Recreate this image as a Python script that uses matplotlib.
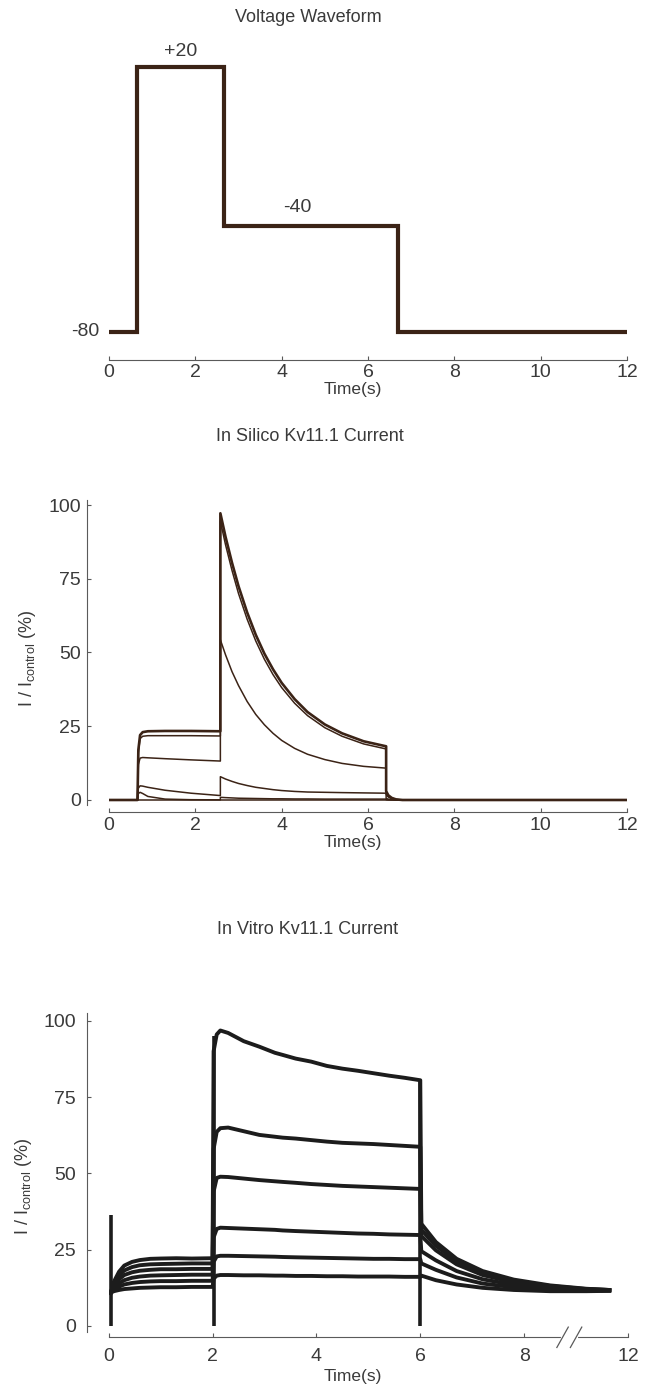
import matplotlib
matplotlib.use('Agg')
import matplotlib.pyplot as plt
import matplotlib.transforms as mtransforms

plt.rcParams['font.family'] = ['Liberation Sans', 'DejaVu Sans']
plt.rcParams['mathtext.default'] = 'regular'

W, H = 646, 1390

# ---- voltage protocol ----
step_times = [0, 0.65, 2.66, 6.69, 12]
step_levels = [-80, 20, -40, -80]
step_labels = ['-80', '+20', '-40']

# ---- in silico current (% of control) ----
si_t = [0, 0.66,
        0.66, 0.68, 0.72, 0.78, 0.9, 1.3, 1.9, 2.58,
        2.58, 2.7, 2.85, 3.0, 3.2, 3.4, 3.6, 3.8, 4.0, 4.3, 4.6, 5.0, 5.4, 5.9, 6.42,
        6.42, 6.47, 6.55, 6.65, 6.8, 12]
si_a = [0, 0, 0, 17, 22, 23, 23.3, 23.4, 23.4, 23.3,
        97.2, 89.2, 80.4, 72.5, 63.6, 56.0, 49.6, 44.3, 39.7, 34.2, 29.8, 25.6, 22.6, 19.9, 18.2,
        3.0, 1.6, 0.7, 0.2, 0, 0]
si_b = [0, 0, 0, 16, 20.8, 21.6, 21.8, 21.8, 21.8, 21.7,
        94.5, 86.5, 77.8, 70.0, 61.3, 53.9, 47.7, 42.5, 38.1, 32.8, 28.6, 24.5, 21.6, 19.0, 17.3,
        2.9, 1.5, 0.6, 0.2, 0, 0]
si_c = [0, 0, 0, 12, 14.2, 14.4, 14.3, 14.0, 13.6, 13.2,
        54.3, 49.2, 43.5, 38.8, 33.4, 29.0, 25.5, 22.6, 20.2, 17.5, 15.5, 13.7, 12.4, 11.4, 10.8,
        1.8, 1.0, 0.4, 0.1, 0, 0]
si_d = [0, 0, 0, 4.0, 4.8, 4.7, 4.3, 3.3, 2.3, 1.5,
        7.9, 7.1, 6.3, 5.6, 4.9, 4.3, 3.9, 3.5, 3.2, 2.9, 2.7, 2.6, 2.5, 2.4, 2.3,
        0.5, 0.3, 0.1, 0, 0, 0]
si_e = [0, 0, 0, 2.2, 2.6, 2.2, 1.2, 0.3, 0.1, 0.05,
        0.9, 0.8, 0.7, 0.6, 0.55, 0.5, 0.45, 0.4, 0.4, 0.35, 0.35, 0.3, 0.3, 0.3, 0.3,
        0.1, 0, 0, 0, 0, 0]
si_f = [0] * 31

# ---- in vitro current (% of control), x in axis units (break after 8) ----
vi_t = [0.04, 0.1, 0.2, 0.3, 0.45, 0.6, 0.8, 1.0, 1.3, 1.6, 2.0,
        2.02, 2.08, 2.15, 2.3, 2.6, 2.9, 3.2, 3.35, 3.6, 3.9, 4.2, 4.5, 4.8, 5.1, 5.4, 5.7, 6.0,
        6.02, 6.3, 6.7, 7.2, 7.8, 8.5, 9.2, 9.64]
vi_1 = [10.9, 14.5, 17.8, 19.8, 21.0, 21.6, 22.0, 22.1, 22.2, 22.1, 22.2,
        90, 95.5, 96.8, 96.0, 93.3, 91.5, 89.5, 88.8, 87.6, 86.6, 85.2, 84.3, 83.6, 82.8, 82.0, 81.3, 80.5,
        33.5, 27.5, 22.0, 18.0, 15.2, 13.3, 12.2, 11.8]
vi_2 = [10.9, 13.8, 16.5, 18.2, 19.3, 19.9, 20.2, 20.3, 20.4, 20.5, 20.5,
        58, 63.6, 64.8, 65.0, 63.8, 62.6, 62.0, 61.7, 61.4, 60.9, 60.4, 60.0, 59.8, 59.6, 59.3, 59.0, 58.7,
        31.5, 26.3, 21.2, 17.4, 14.8, 13.1, 12.1, 11.8]
vi_3 = [10.9, 13.2, 15.3, 16.7, 17.6, 18.1, 18.4, 18.6, 18.6, 18.7, 18.7,
        44, 48.5, 48.9, 48.8, 48.3, 47.8, 47.4, 47.2, 46.9, 46.5, 46.2, 45.9, 45.7, 45.5, 45.3, 45.1, 44.9,
        29.5, 24.8, 20.2, 16.7, 14.3, 12.8, 12.0, 11.8]
vi_4 = [10.9, 12.6, 14.0, 15.0, 15.8, 16.2, 16.5, 16.6, 16.7, 16.8, 16.8,
        29, 31.8, 32.2, 32.1, 31.9, 31.7, 31.5, 31.3, 31.1, 30.9, 30.7, 30.5, 30.3, 30.2, 30.0, 29.9, 29.8,
        24.5, 21.5, 18.0, 15.3, 13.5, 12.4, 11.9, 11.7]
vi_5 = [10.9, 12.0, 12.9, 13.6, 14.1, 14.4, 14.6, 14.7, 14.7, 14.8, 14.8,
        21, 22.8, 23.0, 23.0, 22.9, 22.8, 22.7, 22.6, 22.5, 22.4, 22.3, 22.2, 22.1, 22.0, 22.0, 21.9, 21.9,
        20.5, 18.4, 15.9, 13.9, 12.7, 11.9, 11.6, 11.6]
vi_6 = [10.9, 11.4, 11.8, 12.1, 12.3, 12.5, 12.6, 12.7, 12.7, 12.8, 12.8,
        15.5, 16.5, 16.7, 16.7, 16.6, 16.6, 16.5, 16.5, 16.4, 16.4, 16.3, 16.3, 16.2, 16.2, 16.2, 16.1, 16.1,
        16.5, 15.0, 13.6, 12.5, 11.8, 11.4, 11.4, 11.5]
vi_spike_t = [0.04, 2.02, 5.99]
vi_spike_top = [36.5, 95, 80.5]

vi_ticks = [0, 2, 4, 6, 8, 10]
vi_ticklabels = ['0', '2', '4', '6', '8', '12']
break_at = [8.74, 9.0]

brown = '#3b2316'
ink = '#1c1c1c'
grey = '#5a5a5a'
txt = '#3a3a3a'


def box(left, top, right, bottom):
    return [left / W, 1 - bottom / H, (right - left) / W, (bottom - top) / H]


def ftext(x, y, s, **kw):
    fig.text(x / W, 1 - y / H, s, ha='center', va='center', color=txt, **kw)


def style(ax, left_out, bottom_out, pad):
    for side in ['top', 'right']:
        ax.spines[side].set_visible(False)
    for side in ['left', 'bottom']:
        ax.spines[side].set_color(grey)
        ax.spines[side].set_linewidth(0.8)
    ax.spines['left'].set_position(('outward', left_out))
    ax.spines['bottom'].set_position(('outward', bottom_out))
    ax.tick_params(direction='in', length=3, width=0.8, color=grey,
                   labelcolor=txt, labelsize=14, pad=pad)


fig = plt.figure(figsize=(W / 100, H / 100), dpi=100)

# panel 1: voltage waveform
ax1 = fig.add_axes(box(109, 53.75, 627, 360))
ax1.stairs(step_levels, step_times, baseline=None, color=brown, linewidth=3.0)
ax1.set_xlim(0, 12)
ax1.set_ylim(-90.6, 25)
style(ax1, 0, 0, 3)
ax1.spines['left'].set_visible(False)
ax1.set_yticks([])
ax1.set_xticks(range(0, 13, 2))
ax1.text(-0.56, step_levels[0], step_labels[0], ha='center', va='center',
         fontsize=14, color=txt, clip_on=False)
ax1.text(1.67, step_levels[1] + 5.7, step_labels[1], ha='center', va='center',
         fontsize=14, color=txt, clip_on=False)
ax1.text(4.37, step_levels[2] + 6.8, step_labels[2], ha='center', va='center',
         fontsize=14, color=txt, clip_on=False)
ftext(308, 17, 'Voltage Waveform', fontsize=13)
ftext(353, 389, 'Time(s)', fontsize=12.5)

# panel 2: in silico
ax2 = fig.add_axes(box(109, 500, 627, 805))
for trace in [si_f, si_e, si_d, si_c, si_b]:
    ax2.plot(si_t, trace, color=brown, linewidth=1.1, solid_joinstyle='round')
ax2.plot(si_t, si_a, color=brown, linewidth=1.9, solid_joinstyle='round')
ax2.set_xlim(0, 12)
ax2.set_ylim(-1.7, 101.7)
style(ax2, 16.2, 5, 4)
ax2.set_xticks(range(0, 13, 2))
ax2.set_yticks([0, 25, 50, 75, 100])
ftext(310, 437, 'In Silico Kv11.1 Current', fontsize=13)
ftext(353, 842, 'Time(s)', fontsize=12.5)
ftext(28, 658, 'I / I$_{control}$ (%)', fontsize=13, rotation=90)

# panel 3: in vitro
ax3 = fig.add_axes(box(108.7, 1013.4, 628, 1332.1))
ax3.vlines(vi_spike_t, 0, vi_spike_top, color=ink, linewidth=2.6)
for trace in [vi_6, vi_5, vi_4, vi_3, vi_2, vi_1]:
    ax3.plot(vi_t, trace, color=ink, linewidth=2.8, solid_joinstyle='round')
ax3.set_xlim(0, 10)
ax3.set_ylim(-2, 102.4)
style(ax3, 15.4, 3.7, 8)
ax3.set_xticks(vi_ticks)
ax3.set_xticklabels(vi_ticklabels)
ax3.set_yticks([0, 25, 50, 75, 100])

# axis break marks on the x spine
spine_y = -5.2 / 318.7
trans = mtransforms.blended_transform_factory(ax3.transData, ax3.transAxes)
ax3.plot(break_at, [spine_y, spine_y], color='white', linewidth=3,
         transform=trans, clip_on=False, zorder=5)
for xb in break_at:
    ax3.plot([xb - 0.11, xb + 0.11], [spine_y - 0.032, spine_y + 0.032],
             color=grey, linewidth=0.9, transform=trans, clip_on=False, zorder=6)

ftext(308, 929, 'In Vitro Kv11.1 Current', fontsize=13)
ftext(353, 1376, 'Time(s)', fontsize=12.5)
ftext(23, 1186, 'I / I$_{control}$ (%)', fontsize=13, rotation=90)

fig.savefig('out.png', dpi=100, facecolor='white')
